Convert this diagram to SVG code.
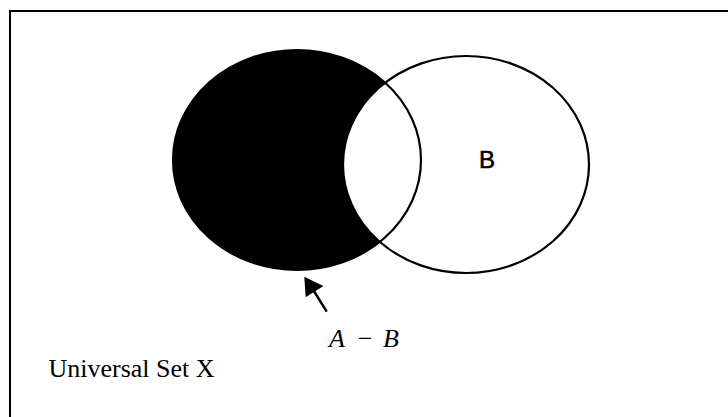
<svg xmlns="http://www.w3.org/2000/svg" width="728" height="417" viewBox="0 0 728 417">
<style>
.frame{fill:none;stroke:#000;stroke-width:2}
.line{fill:none;stroke:#000;stroke-width:2.2}
.serif{font-family:"Liberation Serif","Times New Roman",serif;fill:#000}
.sans{font-family:"Liberation Sans",Arial,sans-serif;fill:#000}
</style>
<defs>
<clipPath id="clipB"><ellipse cx="466" cy="164.5" rx="123" ry="108.5"/></clipPath>
</defs>
<rect width="728" height="417" fill="#fff"/>
<path class="frame" d="M10,417 V11 H728"/>
<g id="setA">
<ellipse cx="297" cy="160" rx="124" ry="110" fill="#000"/>
<ellipse cx="297" cy="160" rx="124" ry="110" fill="#fff" clip-path="url(#clipB)"/>
<ellipse class="line" cx="297" cy="160" rx="124" ry="110"/>
</g>
<g id="setB">
<ellipse class="line" cx="466" cy="164.5" rx="123" ry="108.5"/>
<text class="sans" x="479" y="168" font-size="24" stroke="#000" stroke-width="0.6">B</text>
</g>
<g id="connectors">
<line x1="326.7" y1="311.7" x2="313" y2="289.5" stroke="#000" stroke-width="2.5"/>
<polygon points="304.3,276.7 305.7,297.3 323.3,286" fill="#000"/>
</g>
<g id="label-AminusB">
<text class="serif" x="329 350 356 373 383" y="347" font-size="26" font-style="italic">A − B</text>
</g>
<g id="label-universal">
<text class="serif" x="48.5" y="377" font-size="26">Universal Set X</text>
</g>
</svg>
